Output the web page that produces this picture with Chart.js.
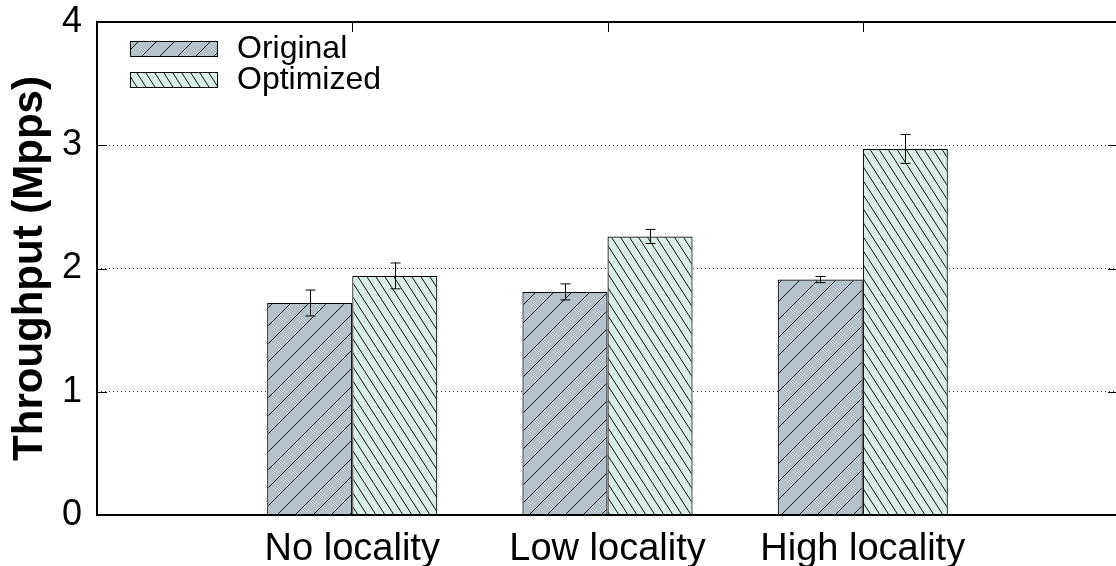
<!DOCTYPE html>
<html>
<head>
<meta charset="utf-8">
<script src="https://cdn.jsdelivr.net/npm/chart.js@4.4.1/dist/chart.umd.min.js"></script>
<style>
  html, body { margin: 0; padding: 0; background: #fff; overflow: hidden; }
  #wrap { width: 1118px; height: 566px; }
</style>
</head>
<body>
<div id="wrap"><canvas id="chart"></canvas></div>
<script>
// categories (blank slots at each end keep the empty margin gnuplot leaves)
const categories = ['', 'No locality', 'Low locality', 'High locality', ''];
const seriesNames = ['Original', 'Optimized'];
const originalValues = [null, 1.72, 1.81, 1.91, null];
const originalErrors = [null, 0.105, 0.065, 0.025, null];
const optimizedValues = [null, 1.94, 2.26, 2.97, null];
const optimizedErrors = [null, 0.105, 0.057, 0.117, null];
const yTicks = [0, 1, 2, 3, 4];

const FONT = '"Liberation Sans", Arial, sans-serif';

// hatch pattern builder
function makeHatch(bg, w, h, forward) {
    const c = document.createElement('canvas');
    c.width = w;
    c.height = h;
    const g = c.getContext('2d');
    g.fillStyle = bg;
    g.fillRect(0, 0, w, h);
    g.strokeStyle = '#111';
    g.lineWidth = 1;
    g.beginPath();
    for (let k = -1; k <= 1; k++) {
        if (forward) {
            g.moveTo(k * w, h);
            g.lineTo(k * w + w, 0);
        } else {
            g.moveTo(k * w, 0);
            g.lineTo(k * w + w, h);
        }
    }
    g.stroke();
    return g.createPattern(c, 'repeat');
}

const origFill = makeHatch('#b6c2ca', 18, 18, true);
const optFill = makeHatch('#d9efe6', 9, 14, false);

// error bars, plot frame, inward ticks and legend
const decorPlugin = {
    id: 'decor',
    afterDatasetsDraw(chart) {
        const ctx = chart.ctx;
        const y = chart.scales.y;
        const errs = [originalErrors, optimizedErrors];
        ctx.save();
        ctx.strokeStyle = '#000';
        ctx.lineWidth = 1;
        chart.data.datasets.forEach((ds, i) => {
            const meta = chart.getDatasetMeta(i);
            meta.data.forEach((bar, j) => {
                const v = ds.data[j];
                const e = errs[i][j];
                if (v == null || e == null) return;
                const x = Math.round(bar.x) + 0.5;
                const top = y.getPixelForValue(v + e);
                const bot = y.getPixelForValue(v - e);
                ctx.beginPath();
                ctx.moveTo(x, top);
                ctx.lineTo(x, bot);
                ctx.moveTo(x - 5, top);
                ctx.lineTo(x + 5, top);
                ctx.moveTo(x - 5, bot);
                ctx.lineTo(x + 5, bot);
                ctx.stroke();
            });
        });
        ctx.restore();
    },
    afterDraw(chart) {
        const ctx = chart.ctx;
        const a = chart.chartArea;
        const y = chart.scales.y;
        const x = chart.scales.x;
        ctx.save();
        ctx.strokeStyle = '#000';
        ctx.lineWidth = 1;
        ctx.beginPath();
        yTicks.slice(1, -1).forEach(t => {
            const py = Math.round(y.getPixelForValue(t)) + 0.5;
            ctx.moveTo(a.left, py);
            ctx.lineTo(a.left + 10, py);
            ctx.moveTo(a.right, py);
            ctx.lineTo(a.right - 10, py);
        });
        for (let i = 1; i < categories.length - 1; i++) {
            const px = Math.round(x.getPixelForValue(i)) + 0.5;
            ctx.moveTo(px, a.top);
            ctx.lineTo(px, a.top + 10);
        }
        ctx.stroke();
        ctx.lineWidth = 2;
        ctx.strokeRect(a.left, a.top, a.right - a.left, a.bottom - a.top);

        // legend
        const fills = [origFill, optFill];
        ctx.font = '32px ' + FONT;
        ctx.textBaseline = 'middle';
        seriesNames.forEach((name, i) => {
            const bx = a.left + 33;
            const by = a.top + 19 + i * 31;
            ctx.fillStyle = fills[i];
            ctx.fillRect(bx, by, 87, 15);
            ctx.lineWidth = 1;
            ctx.strokeStyle = '#000';
            ctx.strokeRect(bx + 0.5, by + 0.5, 87, 15);
            ctx.fillStyle = '#000';
            ctx.fillText(name, bx + 107, by + 8);
        });
        ctx.restore();
    }
};

new Chart(document.getElementById('chart'), {
    type: 'bar',
    data: {
        labels: categories,
        datasets: [
            {
                label: seriesNames[0],
                data: originalValues,
                backgroundColor: origFill,
                borderColor: '#000',
                borderWidth: 1.2,
                categoryPercentage: 2 / 3,
                barPercentage: 1
            },
            {
                label: seriesNames[1],
                data: optimizedValues,
                backgroundColor: optFill,
                borderColor: '#000',
                borderWidth: 1.2,
                categoryPercentage: 2 / 3,
                barPercentage: 1
            }
        ]
    },
    options: {
        responsive: true,
        maintainAspectRatio: false,
        animation: false,
        layout: { padding: { top: 22, right: 0, left: 0, bottom: 0 } },
        plugins: {
            legend: { display: false },
            tooltip: { enabled: false }
        },
        scales: {
            x: {
                offset: false,
                grid: { display: false, drawTicks: false },
                border: { display: false },
                ticks: {
                    color: '#000',
                    font: { family: FONT, size: 38 },
                    padding: 12,
                    maxRotation: 0,
                    autoSkip: false
                },
                afterFit(scale) {
                    scale.height = 51;
                    scale.paddingLeft = 0;
                    scale.paddingRight = 0;
                }
            },
            y: {
                min: 0,
                max: 4,
                afterBuildTicks(scale) {
                    scale.ticks = yTicks.map(v => ({ value: v }));
                },
                grid: {
                    color: ctx => (ctx.tick.value === 0 || ctx.tick.value === 4) ? 'rgba(0,0,0,0)' : '#333',
                    lineWidth: 1,
                    drawTicks: false
                },
                border: { display: false, dash: [1, 3] },
                ticks: {
                    color: '#000',
                    font: { family: FONT, size: 36 },
                    padding: 15
                },
                title: {
                    display: true,
                    text: 'Throughput (Mpps)',
                    color: '#000',
                    font: { family: FONT, size: 42, weight: 'bold' },
                    padding: { top: 5, bottom: 0 }
                },
                afterFit(scale) {
                    scale.width = 97;
                    scale.paddingTop = 0;
                    scale.paddingBottom = 0;
                }
            }
        }
    },
    plugins: [decorPlugin]
});
</script>
</body>
</html>
